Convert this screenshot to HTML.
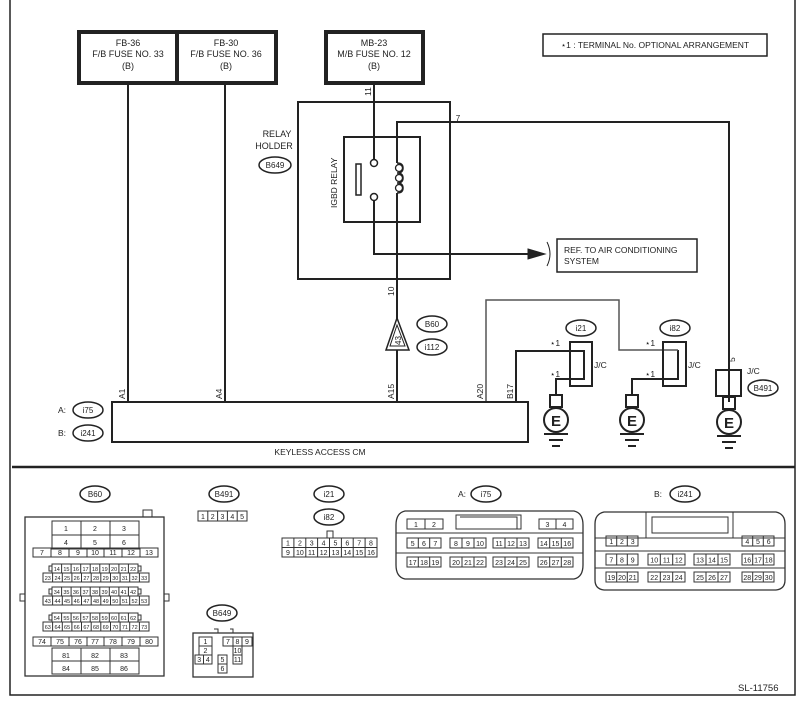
<!DOCTYPE html>
<html><head><meta charset="utf-8"><style>
html,body{margin:0;padding:0;background:#fff}
svg{display:block}
text{font-family:"Liberation Sans",Arial,sans-serif;fill:#222}
</style></head><body>
<svg width="803" height="704" viewBox="0 0 803 704" xmlns="http://www.w3.org/2000/svg">
<g fill="none" stroke="#222">
<path d="M10 0 V695 H795 V0" stroke-width="1.5"/>
<line x1="12" y1="467" x2="795" y2="467" stroke-width="2.5"/>
<rect x="79" y="32" width="197" height="51" stroke-width="4"/>
<line x1="177" y1="32" x2="177" y2="83" stroke-width="4"/>
<rect x="326" y="32" width="97" height="51" stroke-width="4"/>
<rect x="543" y="34" width="224" height="22" stroke-width="1.5"/>
<g stroke-width="2">
<line x1="128" y1="84" x2="128" y2="402"/>
<line x1="225" y1="84" x2="225" y2="402"/>
<path d="M374 84 V160"/>
<path d="M374 200 V254 H532"/>
<path d="M397 402 V193 M397 163 V122 H729 V402"/>
<path d="M516 402 V351 H584 V379 H556 V395"/>
<path d="M678 350 V379 H632 V395"/>
</g>
<path d="M486 402 V300 H619 V350 H678" stroke-width="1.5" stroke="#555"/>
<rect x="298" y="102" width="152" height="177" stroke-width="2"/>
<rect x="344" y="137" width="76" height="85" stroke-width="2"/>
<circle cx="374" cy="163" r="3.5" stroke-width="1.5" fill="#fff"/>
<circle cx="374" cy="197" r="3.5" stroke-width="1.5" fill="#fff"/>
<rect x="356" y="164" width="5" height="31" stroke-width="1.5"/>
<path d="M397 163 q6 0 6 5 q0 5 -6 5 q6 0 6 5 q0 5 -6 5 q6 0 6 5 q0 5 -6 5" stroke-width="1.5"/>
<ellipse cx="399" cy="168" rx="3.5" ry="3.5" stroke-width="1.3"/>
<ellipse cx="399" cy="178" rx="3.5" ry="3.5" stroke-width="1.3"/>
<ellipse cx="399" cy="188" rx="3.5" ry="3.5" stroke-width="1.3"/>
<path d="M528 249 L545 254 L528 259 Z" fill="#222"/>
<path d="M547 242 Q553 254 547 266" stroke-width="1"/>
<rect x="557" y="239" width="140" height="33" stroke-width="1.5"/>
<path d="M397 318 L386 350 H409 Z" stroke-width="1.5" fill="#fff"/>
<path d="M397 325 L390 346 H405 Z" stroke-width="1"/>
<rect x="112" y="402" width="416" height="40" stroke-width="2"/>
<g stroke-width="1.5">
<ellipse cx="275" cy="165" rx="16" ry="8"/>
<ellipse cx="432" cy="324" rx="15" ry="8"/>
<ellipse cx="432" cy="347" rx="15" ry="8"/>
<ellipse cx="88" cy="410" rx="15" ry="8"/>
<ellipse cx="88" cy="433" rx="15" ry="8"/>
<ellipse cx="581" cy="328" rx="15" ry="8"/>
<ellipse cx="675" cy="328" rx="15" ry="8"/>
<ellipse cx="763" cy="388" rx="15" ry="8"/>
<ellipse cx="95" cy="494" rx="15" ry="8"/>
<ellipse cx="224" cy="494" rx="15" ry="8"/>
<ellipse cx="329" cy="494" rx="15" ry="8"/>
<ellipse cx="329" cy="517" rx="15" ry="8"/>
<ellipse cx="486" cy="494" rx="15" ry="8"/>
<ellipse cx="685" cy="494" rx="15" ry="8"/>
<ellipse cx="222" cy="613" rx="15" ry="8"/>
</g>
<rect x="570" y="342" width="22" height="44" stroke-width="2"/>
<rect x="663" y="342" width="23" height="44" stroke-width="2"/>
<rect x="716" y="370" width="25" height="26" stroke-width="2"/>
<g stroke-width="2">
<rect x="550" y="395" width="12" height="12"/><circle cx="556" cy="420" r="12"/>
<path d="M544 434 H568 M549 440 H563 M552 446 H560"/>
<rect x="626" y="395" width="12" height="12"/><circle cx="632" cy="420" r="12"/>
<path d="M620 434 H644 M625 440 H639 M628 446 H636"/>
<rect x="723" y="397" width="12" height="12"/><circle cx="729" cy="422" r="12"/>
<path d="M717 436 H741 M722 442 H736 M725 448 H733"/>
</g>
</g>
<g font-size="9" text-anchor="middle">
<text x="128" y="46">FB-36</text><text x="128" y="57">F/B FUSE NO. 33</text><text x="128" y="69">(B)</text>
<text x="226" y="46">FB-30</text><text x="226" y="57">F/B FUSE NO. 36</text><text x="226" y="69">(B)</text>
<text x="374" y="46">MB-23</text><text x="374" y="57">M/B FUSE NO. 12</text><text x="374" y="69">(B)</text>
<text x="655" y="48" font-size="8.5">⋆1  : TERMINAL No. OPTIONAL ARRANGEMENT</text>
<text x="277" y="137">RELAY</text><text x="274" y="149">HOLDER</text>
<text x="275" y="168" font-size="8">B649</text>
<text x="432" y="327" font-size="8">B60</text><text x="432" y="350" font-size="8">i112</text>
<text x="88" y="413" font-size="8">i75</text><text x="88" y="436" font-size="8">i241</text>
<text x="581" y="331" font-size="8">i21</text><text x="675" y="331" font-size="8">i82</text>
<text x="763" y="391" font-size="8">B491</text>
<text x="320" y="455" font-size="8.5">KEYLESS ACCESS CM</text>
<text x="458" y="121" font-size="8">7</text>
<text x="95" y="497" font-size="8">B60</text><text x="224" y="497" font-size="8">B491</text>
<text x="329" y="497" font-size="8">i21</text><text x="329" y="520" font-size="8">i82</text>
<text x="486" y="497" font-size="8">i75</text><text x="685" y="497" font-size="8">i241</text>
<text x="222" y="616" font-size="8">B649</text>
</g>
<g font-size="8.5">
<text x="58" y="413">A:</text><text x="58" y="436">B:</text>
<text x="594" y="368">J/C</text><text x="688" y="368">J/C</text><text x="747" y="374">J/C</text>
<text x="550" y="346">⋆1</text><text x="550" y="377">⋆1</text>
<text x="645" y="346">⋆1</text><text x="645" y="377">⋆1</text>
<text x="564" y="253">REF. TO AIR CONDITIONING</text>
<text x="564" y="264">SYSTEM</text>
<text x="458" y="497">A:</text><text x="654" y="497">B:</text>
<text x="738" y="691" font-size="9.5">SL-11756</text>
</g>
<g font-size="8.5">
<text transform="translate(371,96) rotate(-90)">11</text>
<text transform="translate(394,296) rotate(-90)">10</text>
<text transform="translate(735,362) rotate(-90)">5</text>
<text transform="translate(337,208) rotate(-90)">IGBD RELAY</text>
<text transform="translate(401,345) rotate(-90)" font-size="8">43</text>
<text transform="translate(125,399) rotate(-90)">A1</text>
<text transform="translate(222,399) rotate(-90)">A4</text>
<text transform="translate(394,399) rotate(-90)">A15</text>
<text transform="translate(483,399) rotate(-90)">A20</text>
<text transform="translate(513,399) rotate(-90)">B17</text>
</g>

<g fill="none" stroke="#333" stroke-width="1">
<rect x="25" y="517" width="139" height="159" stroke-width="1.3"/>
<rect x="143" y="510" width="9" height="7"/>
<rect x="20" y="594" width="5" height="7"/><rect x="164" y="594" width="5" height="7"/>
<path d="M52 521 h87 v28 h-87 z M52 535 h87 M81 521 v28 M110 521 v28"/>
<path d="M33 548 h125 v9 h-125 z M51 548 v9 M69 548 v9 M87 548 v9 M104 548 v9 M122 548 v9 M140 548 v9"/>
<path d="M52 564 h86 v9 h-86 z M61.6 564 v9 M71.1 564 v9 M80.7 564 v9 M90.2 564 v9 M99.8 564 v9 M109.3 564 v9 M118.9 564 v9 M128.4 564 v9 M49 566 h3 v5 h-3z M138 566 h3 v5 h-3z"/>
<path d="M43 573 h106 v9 h-106 z M52.6 573 v9 M62.3 573 v9 M71.9 573 v9 M81.5 573 v9 M91.2 573 v9 M100.8 573 v9 M110.5 573 v9 M120.1 573 v9 M129.7 573 v9 M139.4 573 v9"/>
<path d="M52 587 h86 v9 h-86 z M61.6 587 v9 M71.1 587 v9 M80.7 587 v9 M90.2 587 v9 M99.8 587 v9 M109.3 587 v9 M118.9 587 v9 M128.4 587 v9 M49 589 h3 v5 h-3z M138 589 h3 v5 h-3z"/>
<path d="M43 596 h106 v9 h-106 z M52.6 596 v9 M62.3 596 v9 M71.9 596 v9 M81.5 596 v9 M91.2 596 v9 M100.8 596 v9 M110.5 596 v9 M120.1 596 v9 M129.7 596 v9 M139.4 596 v9"/>
<path d="M52 613 h86 v9 h-86 z M61.6 613 v9 M71.1 613 v9 M80.7 613 v9 M90.2 613 v9 M99.8 613 v9 M109.3 613 v9 M118.9 613 v9 M128.4 613 v9 M49 615 h3 v5 h-3z M138 615 h3 v5 h-3z"/>
<path d="M43 622 h106 v9 h-106 z M52.6 622 v9 M62.3 622 v9 M71.9 622 v9 M81.5 622 v9 M91.2 622 v9 M100.8 622 v9 M110.5 622 v9 M120.1 622 v9 M129.7 622 v9 M139.4 622 v9"/>
<path d="M33 637 h125 v9 h-125 z M51 637 v9 M69 637 v9 M87 637 v9 M104 637 v9 M122 637 v9 M140 637 v9"/>
<path d="M52 648 h87 v26 h-87 z M52 661 h87 M81 648 v26 M110 648 v26"/>
<path d="M198 511 h49 v10 h-49 z M207.8 511 v10 M217.6 511 v10 M227.4 511 v10 M237.2 511 v10"/>
<rect x="193" y="633" width="60" height="44" stroke-width="1.3"/>
<path d="M214 629 h4 v4 M230 629 h3 v4"/>
<path d="M199 637 h13 v18 h-13 z M199 646 h13 M195 655 h17 v9 h-17 z M203.5 655 v9"/>
<path d="M223 637 h29 v9 h-29 z M233 637 v9 M242 637 v9 M233 646 h9 v18 h-9 z M233 655 h9"/>
<path d="M218 655 h9 v18 h-9 z M218 664 h9"/>
<path d="M282 538 h95 v19 h-95 z M282 547.5 h95 M293.9 538 v19 M305.8 538 v19 M317.6 538 v19 M329.5 538 v19 M341.4 538 v19 M353.2 538 v19 M365.1 538 v19 M327 538 v-7 h6 v7"/>
<path d="M405 511 H574 Q583 513 583 525 V565 Q583 577 574 579 H405 Q396 577 396 565 V525 Q396 513 405 511 Z" stroke-width="1.3"/>
<path d="M396 533 H583 M396 553 H583"/>
<path d="M407 519 h36 v10 h-36 z M425 519 v10 M539 519 h34 v10 h-34 z M556 519 v10 M456 515 h65 v14 h-65 z M460 517 h57 v12"/>
<path d="M407 538 h34 v10 h-34 z M418.3 538 v10 M429.7 538 v10 M450 538 h36 v10 h-36 z M462 538 v10 M474 538 v10 M493 538 h36 v10 h-36 z M505 538 v10 M517 538 v10 M538 538 h35 v10 h-35 z M549.7 538 v10 M561.3 538 v10"/>
<path d="M407 557 h34 v10 h-34 z M418.3 557 v10 M429.7 557 v10 M450 557 h36 v10 h-36 z M462 557 v10 M474 557 v10 M493 557 h36 v10 h-36 z M505 557 v10 M517 557 v10 M538 557 h35 v10 h-35 z M549.7 557 v10 M561.3 557 v10"/>
<path d="M604 512 H776 Q785 514 785 524 V580 Q785 589 776 590 H604 Q595 589 595 580 V524 Q595 514 604 512 Z" stroke-width="1.3"/>
<path d="M646 512 V538 H733 V512 M652 517 h76 v16 h-76z M595 551 H785 M595 568 H785 M595 538 H646 M733 538 H785"/>
<path d="M606 536 h32 v10 h-32 z M616.7 536 v10 M627.3 536 v10 M742 536 h32 v10 h-32 z M752.7 536 v10 M763.3 536 v10"/>
<path d="M606 554 h32 v11 h-32 z M616.7 554 v11 M627.3 554 v11 M648 554 h37 v11 h-37 z M660.3 554 v11 M672.7 554 v11 M694 554 h36 v11 h-36 z M706 554 v11 M718 554 v11 M742 554 h32 v11 h-32 z M752.7 554 v11 M763.3 554 v11"/>
<path d="M606 572 h32 v10 h-32 z M616.7 572 v10 M627.3 572 v10 M648 572 h37 v10 h-37 z M660.3 572 v10 M672.7 572 v10 M694 572 h36 v10 h-36 z M706 572 v10 M718 572 v10 M742 572 h32 v10 h-32 z M752.7 572 v10 M763.3 572 v10"/>
</g>
<g font-size="7" text-anchor="middle">
<text x="66" y="531">1</text><text x="95" y="531">2</text><text x="124" y="531">3</text>
<text x="66" y="545">4</text><text x="95" y="545">5</text><text x="124" y="545">6</text>
<text x="42" y="555">7</text><text x="60" y="555">8</text><text x="78" y="555">9</text><text x="95" y="555">10</text><text x="113" y="555">11</text><text x="131" y="555">12</text><text x="149" y="555">13</text>
</g>
<g font-size="5.5" text-anchor="middle">
<text x="56.8" y="571">14</text><text x="66.4" y="571">15</text><text x="75.9" y="571">16</text><text x="85.5" y="571">17</text><text x="95" y="571">18</text><text x="104.6" y="571">19</text><text x="114.1" y="571">20</text><text x="123.7" y="571">21</text><text x="133.2" y="571">22</text>
<text x="47.8" y="580">23</text><text x="57.5" y="580">24</text><text x="67.1" y="580">25</text><text x="76.7" y="580">26</text><text x="86.4" y="580">27</text><text x="96" y="580">28</text><text x="105.7" y="580">29</text><text x="115.3" y="580">30</text><text x="124.9" y="580">31</text><text x="134.6" y="580">32</text><text x="144.2" y="580">33</text>
<text x="56.8" y="594">34</text><text x="66.4" y="594">35</text><text x="75.9" y="594">36</text><text x="85.5" y="594">37</text><text x="95" y="594">38</text><text x="104.6" y="594">39</text><text x="114.1" y="594">40</text><text x="123.7" y="594">41</text><text x="133.2" y="594">42</text>
<text x="47.8" y="603">43</text><text x="57.5" y="603">44</text><text x="67.1" y="603">45</text><text x="76.7" y="603">46</text><text x="86.4" y="603">47</text><text x="96" y="603">48</text><text x="105.7" y="603">49</text><text x="115.3" y="603">50</text><text x="124.9" y="603">51</text><text x="134.6" y="603">52</text><text x="144.2" y="603">53</text>
<text x="56.8" y="620">54</text><text x="66.4" y="620">55</text><text x="75.9" y="620">56</text><text x="85.5" y="620">57</text><text x="95" y="620">58</text><text x="104.6" y="620">59</text><text x="114.1" y="620">60</text><text x="123.7" y="620">61</text><text x="133.2" y="620">62</text>
<text x="47.8" y="629">63</text><text x="57.5" y="629">64</text><text x="67.1" y="629">65</text><text x="76.7" y="629">66</text><text x="86.4" y="629">67</text><text x="96" y="629">68</text><text x="105.7" y="629">69</text><text x="115.3" y="629">70</text><text x="124.9" y="629">71</text><text x="134.6" y="629">72</text><text x="144.2" y="629">73</text>
</g>
<g font-size="7" text-anchor="middle">
<text x="42" y="644">74</text><text x="60" y="644">75</text><text x="78" y="644">76</text><text x="95" y="644">77</text><text x="113" y="644">78</text><text x="131" y="644">79</text><text x="149" y="644">80</text>
<text x="66" y="658">81</text><text x="95" y="658">82</text><text x="124" y="658">83</text>
<text x="66" y="671">84</text><text x="95" y="671">85</text><text x="124" y="671">86</text>
<text x="202.9" y="519">1</text><text x="212.7" y="519">2</text><text x="222.5" y="519">3</text><text x="232.3" y="519">4</text><text x="242.1" y="519">5</text>
<text x="205.5" y="644">1</text><text x="205.5" y="653">2</text><text x="199.2" y="662">3</text><text x="207.8" y="662">4</text>
<text x="228" y="644">7</text><text x="237.5" y="644">8</text><text x="247" y="644">9</text><text x="237.5" y="653">10</text><text x="237.5" y="662">11</text>
<text x="222.5" y="662">5</text><text x="222.5" y="671">6</text>
<text x="288" y="545.5">1</text><text x="299.9" y="545.5">2</text><text x="311.7" y="545.5">3</text><text x="323.6" y="545.5">4</text><text x="335.5" y="545.5">5</text><text x="347.3" y="545.5">6</text><text x="359.2" y="545.5">7</text><text x="371" y="545.5">8</text>
<text x="288" y="555">9</text><text x="299.9" y="555">10</text><text x="311.7" y="555">11</text><text x="323.6" y="555">12</text><text x="335.5" y="555">13</text><text x="347.3" y="555">14</text><text x="359.2" y="555">15</text><text x="371" y="555">16</text>
<text x="416" y="527">1</text><text x="434" y="527">2</text><text x="547.5" y="527">3</text><text x="564.5" y="527">4</text>
<text x="412.7" y="546">5</text><text x="424" y="546">6</text><text x="435.3" y="546">7</text><text x="456" y="546">8</text><text x="468" y="546">9</text><text x="480" y="546">10</text><text x="499" y="546">11</text><text x="511" y="546">12</text><text x="523" y="546">13</text><text x="543.8" y="546">14</text><text x="555.5" y="546">15</text><text x="567.2" y="546">16</text>
<text x="412.7" y="565">17</text><text x="424" y="565">18</text><text x="435.3" y="565">19</text><text x="456" y="565">20</text><text x="468" y="565">21</text><text x="480" y="565">22</text><text x="499" y="565">23</text><text x="511" y="565">24</text><text x="523" y="565">25</text><text x="543.8" y="565">26</text><text x="555.5" y="565">27</text><text x="567.2" y="565">28</text>
<text x="611.3" y="544">1</text><text x="622" y="544">2</text><text x="632.7" y="544">3</text><text x="747.3" y="544">4</text><text x="758" y="544">5</text><text x="768.7" y="544">6</text>
<text x="611.3" y="562.5">7</text><text x="622" y="562.5">8</text><text x="632.7" y="562.5">9</text><text x="654.2" y="562.5">10</text><text x="666.5" y="562.5">11</text><text x="678.8" y="562.5">12</text><text x="700" y="562.5">13</text><text x="712" y="562.5">14</text><text x="724" y="562.5">15</text><text x="747.3" y="562.5">16</text><text x="758" y="562.5">17</text><text x="768.7" y="562.5">18</text>
<text x="611.3" y="580">19</text><text x="622" y="580">20</text><text x="632.7" y="580">21</text><text x="654.2" y="580">22</text><text x="666.5" y="580">23</text><text x="678.8" y="580">24</text><text x="700" y="580">25</text><text x="712" y="580">26</text><text x="724" y="580">27</text><text x="747.3" y="580">28</text><text x="758" y="580">29</text><text x="768.7" y="580">30</text>
</g>
<g font-size="15" font-weight="bold" text-anchor="middle">
<text x="556" y="426">E</text><text x="632" y="426">E</text><text x="729" y="428">E</text>
</g>
</svg>
</body></html>
